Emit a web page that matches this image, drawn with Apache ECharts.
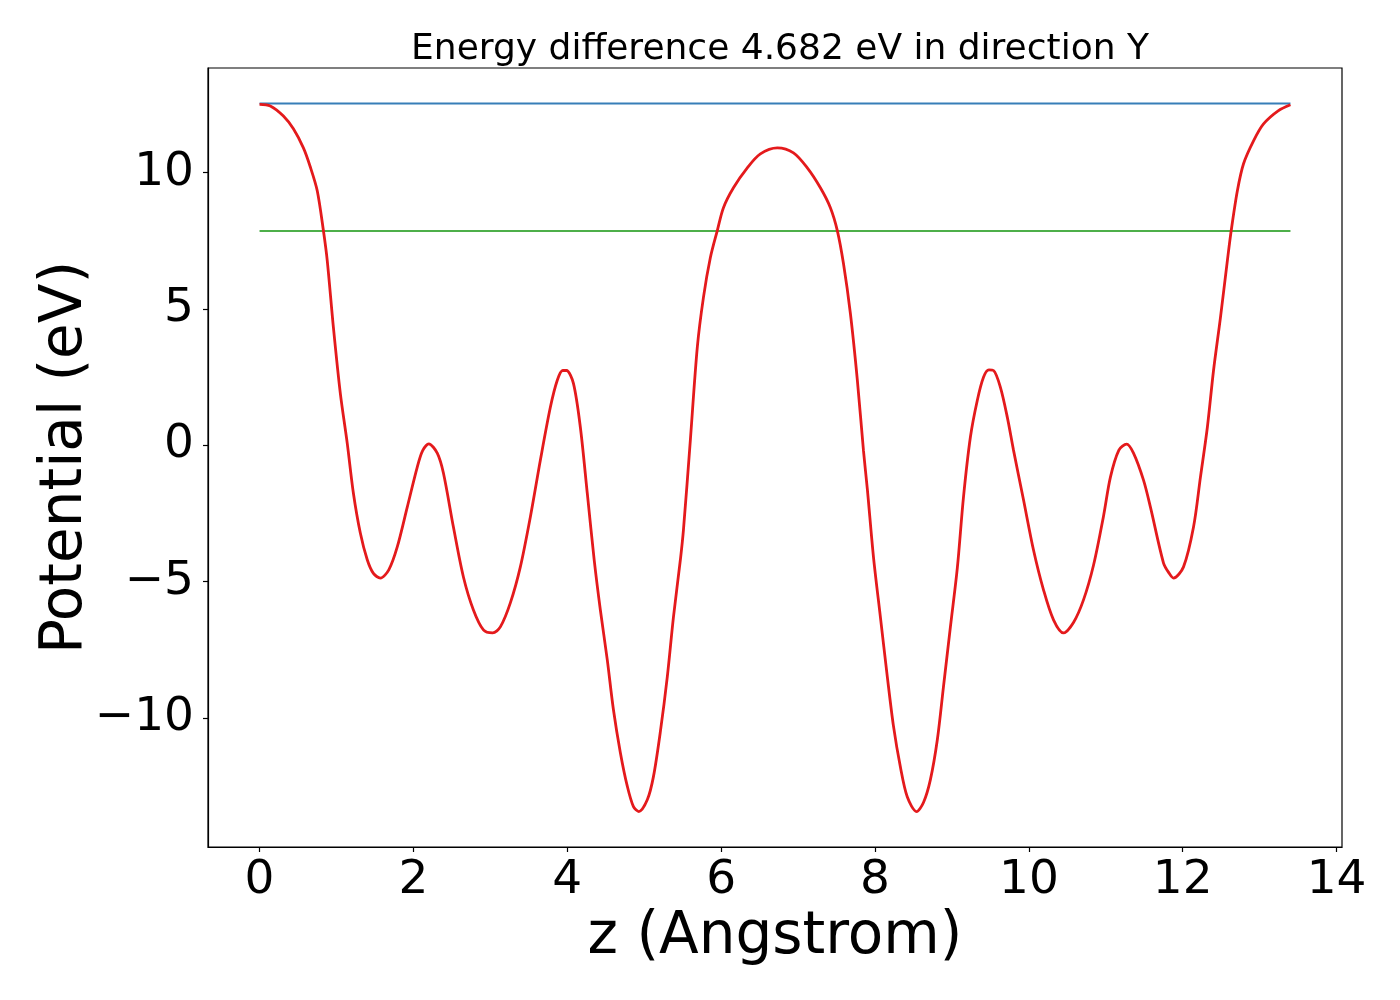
<!DOCTYPE html>
<html>
<head>
<meta charset="utf-8">
<script src="https://cdn.jsdelivr.net/npm/echarts@6/dist/echarts.min.js"></script>
<style>
  html, body { margin: 0; padding: 0; background: #fff; }
  #chart { width: 1400px; height: 1000px; }
</style>
</head>
<body>
<div id="chart"></div>
<script>
// position along z (Angstrom) and planar averaged potential (eV)
const zValues = [
  0.00, 0.14, 0.31, 0.44, 0.57, 0.66, 0.75, 0.83, 0.88, 0.96,
  1.05, 1.14, 1.22, 1.31, 1.40, 1.48, 1.57, 1.68, 1.79, 1.92,
  2.05, 2.12, 2.20, 2.31, 2.39, 2.52, 2.65, 2.78, 2.91, 3.03,
  3.13, 3.26, 3.39, 3.52, 3.65, 3.78, 3.87, 3.94, 3.99, 4.08,
  4.17, 4.26, 4.35, 4.43, 4.52, 4.60, 4.69, 4.78, 4.86, 4.93,
  5.04, 5.12, 5.21, 5.30, 5.38, 5.47, 5.51, 5.60, 5.69, 5.77,
  5.86, 5.95, 6.03, 6.16, 6.34, 6.51, 6.73, 6.94, 7.12, 7.29,
  7.42, 7.51, 7.59, 7.68, 7.77, 7.85, 7.90, 7.98, 8.07, 8.16,
  8.24, 8.33, 8.42, 8.54, 8.63, 8.72, 8.81, 8.89, 8.98, 9.07,
  9.15, 9.24, 9.33, 9.41, 9.48, 9.54, 9.63, 9.72, 9.80, 9.93,
  10.06, 10.19, 10.32, 10.45, 10.58, 10.71, 10.84, 10.97, 11.06, 11.17,
  11.27, 11.36, 11.49, 11.58, 11.75, 11.82, 11.88, 12.01, 12.14, 12.23,
  12.32, 12.40, 12.49, 12.58, 12.63, 12.71, 12.79, 12.92, 13.05, 13.24,
  13.40
];
const potential = [
  12.50, 12.44, 12.07, 11.60, 10.90, 10.20, 9.33, 7.87, 6.77, 4.32,
  1.90, 0.07, -1.76, -3.22, -4.20, -4.70, -4.87, -4.57, -3.73, -2.27,
  -0.80, -0.20, 0.05, -0.29, -1.02, -3.00, -4.83, -6.04, -6.77, -6.88,
  -6.66, -5.78, -4.46, -2.63, -0.55, 1.39, 2.38, 2.74, 2.74, 2.27,
  0.66, -1.76, -4.21, -6.04, -7.87, -9.70, -11.27, -12.50, -13.25, -13.43,
  -13.00, -12.15, -10.50, -8.49, -6.30, -4.20, -3.10, 0.20, 3.59, 5.42,
  6.88, 7.87, 8.71, 9.44, 10.17, 10.68, 10.90, 10.72, 10.17, 9.44,
  8.71, 7.87, 6.66, 4.83, 2.40, -0.20, -1.60, -4.10, -6.30, -8.49,
  -10.30, -11.80, -12.90, -13.43, -13.10, -12.26, -10.80, -8.85, -6.66, -4.50,
  -1.90, 0.30, 1.65, 2.49, 2.76, 2.74, 2.12, 1.02, -0.18, -2.00,
  -3.84, -5.30, -6.40, -6.88, -6.50, -5.67, -4.40, -2.60, -1.17, -0.18,
  0.04, -0.29, -1.28, -2.27, -4.32, -4.68, -4.87, -4.46, -3.00, -1.17,
  0.66, 2.74, 4.68, 6.77, 7.87, 9.33, 10.32, 11.16, 11.78, 12.26,
  12.48
];

// the two reference levels, drawn over the same z span
const levelZ = [0, 13.4];
const vacuumLevel = [12.53, 12.53];
const fermiLevel = [7.85, 7.85];

const xTicks = [0, 2, 4, 6, 8, 10, 12, 14];
const yTicks = [-10, -5, 0, 5, 10];

const pairs = (xs, ys) => xs.map((x, i) => [x, ys[i]]);
const minus = (v) => String(v).replace("-", "\u2212");

const chart = echarts.init(document.getElementById("chart"));
const font = "DejaVu Sans";

chart.setOption({
  animation: false,
  textStyle: { fontFamily: font },
  title: {
    text: "Energy difference 4.682 eV in direction Y",
    left: 775,
    textAlign: "center",
    top: 27,
    textStyle: { fontFamily: font, fontSize: 36, fontWeight: "normal", color: "#000" },
  },
  grid: {
    left: 208,
    right: 58,
    top: 68,
    bottom: 153,
    show: true,
    borderColor: "#000",
    borderWidth: 1.2,
    outerBoundsMode: "none",
  },
  xAxis: {
    type: "value",
    min: -0.67,
    max: 14.07,
    name: "z (Angstrom)",
    nameLocation: "middle",
    nameGap: 62,
    nameMoveOverlap: false,
    nameTextStyle: { fontFamily: font, fontSize: 58, color: "#000" },
    axisLine: { show: true, onZero: false, lineStyle: { color: "#000", width: 1.2 } },
    axisTick: { show: true, length: 5, customValues: xTicks, lineStyle: { color: "#000", width: 1.2 } },
    axisLabel: {
      customValues: xTicks,
      margin: 10,
      fontFamily: font,
      fontSize: 47,
      color: "#000",
      formatter: minus,
    },
    splitLine: { show: false },
  },
  yAxis: {
    type: "value",
    min: -14.73,
    max: 13.83,
    name: "Potential (eV)",
    nameLocation: "middle",
    nameGap: 113,
    nameMoveOverlap: false,
    nameTextStyle: { fontFamily: font, fontSize: 58, color: "#000" },
    axisLine: { show: true, onZero: false, lineStyle: { color: "#000", width: 1.2 } },
    axisTick: { show: true, length: 5, customValues: yTicks, lineStyle: { color: "#000", width: 1.2 } },
    axisLabel: {
      customValues: yTicks,
      margin: 14,
      fontFamily: font,
      fontSize: 47,
      color: "#000",
      formatter: minus,
    },
    splitLine: { show: false },
  },
  series: [
    {
      type: "line",
      data: pairs(levelZ, vacuumLevel),
      showSymbol: false,
      lineStyle: { color: "#377eb8", width: 2 },
      z: 2,
    },
    {
      type: "line",
      data: pairs(levelZ, fermiLevel),
      showSymbol: false,
      lineStyle: { color: "#4daf4a", width: 2 },
      z: 2,
    },
    {
      type: "line",
      data: pairs(zValues, potential),
      showSymbol: false,
      smooth: 0.3,
      lineStyle: { color: "#e41a1c", width: 2.8 },
      z: 3,
    },
  ],
});
</script>
</body>
</html>
